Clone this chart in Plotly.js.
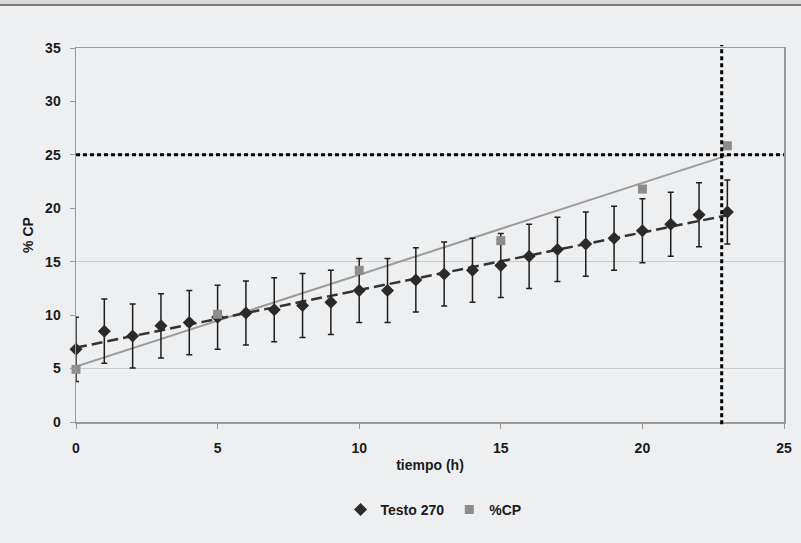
<!DOCTYPE html>
<html>
<head>
<meta charset="utf-8">
<script src="https://cdn.plot.ly/plotly-3.0.1.min.js"></script>
<style>
  html, body { margin: 0; padding: 0; background: #eeeff1; }
  #topband { position: absolute; left: 0; top: 0; width: 801px; height: 4px; background: #d9d9d9; border-bottom: 2px solid #7a7a7a; z-index: 10; }
  #chart { width: 801px; height: 543px; }
</style>
</head>
<body>
<div id="topband"></div>
<div id="chart"></div>
<script>
// ---- data ----
const testoHours = [0,1,2,3,4,5,6,7,8,9,10,11,12,13,14,15,16,17,18,19,20,21,22,23];
const testoValues = [6.8,8.5,8.05,9.0,9.3,9.8,10.2,10.5,10.9,11.2,12.3,12.3,13.3,13.85,14.2,14.65,15.5,16.15,16.65,17.2,17.9,18.5,19.4,19.65];
const testoErrors = [3,3,3,3,3,3,3,3,3,3,3,3,3,3,3,3,3,3,3,3,3,3,3,3];
const cpHours = [0,5,10,15,20,23];
const cpValues = [4.93,10.08,14.2,16.97,21.8,25.85];
const targetCP = 25;
const crossHour = 22.8;
const xTicks = [0,5,10,15,20,25];
const yTicks = [0,5,10,15,20,25,30,35];
const seriesNames = ['Testo 270', '%CP'];

// least-squares linear trend
function fit(xs, ys) {
  const n = xs.length;
  const mx = xs.reduce((a,b)=>a+b,0)/n;
  const my = ys.reduce((a,b)=>a+b,0)/n;
  let sxy = 0, sxx = 0;
  for (let i = 0; i < n; i++) { sxy += (xs[i]-mx)*(ys[i]-my); sxx += (xs[i]-mx)*(xs[i]-mx); }
  const m = sxy/sxx;
  return {m: m, b: my - m*mx};
}
const tFit = fit(testoHours, testoValues);
const cFit = fit(cpHours, cpValues);
const tX = [testoHours[0], testoHours[testoHours.length-1]];
const cX = [cpHours[0], cpHours[cpHours.length-1]];

const FONT = {family: 'Liberation Sans, Arial, sans-serif', size: 14, color: '#1a1a1a', weight: 'bold'};

const traces = [
  {x: cX, y: cX.map(v => cFit.b + cFit.m*v), mode: 'lines', showlegend: false, hoverinfo: 'skip',
   line: {color: '#9b9b9b', width: 2}},
  {x: tX, y: tX.map(v => tFit.b + tFit.m*v), mode: 'lines', showlegend: false, hoverinfo: 'skip',
   line: {color: '#333333', width: 2.5, dash: '11px,5px'}},
  {x: testoHours, y: testoValues, name: seriesNames[0], mode: 'markers', cliponaxis: false,
   marker: {symbol: 'diamond', size: 10, color: '#2a2a2a'},
   error_y: {type: 'data', array: testoErrors, visible: true, color: '#1e1e1e', thickness: 1.5, width: 3}},
  {x: cpHours, y: cpValues, name: seriesNames[1], mode: 'markers', cliponaxis: false,
   marker: {symbol: 'square', size: 9, color: '#8c8c8c'}},
  // invisible helper on overlay axis to carry grid lines at 5,15,25,35
  {x: [0], y: [0], yaxis: 'y2', mode: 'markers', showlegend: false, hoverinfo: 'skip',
   marker: {opacity: 0}}
];

const layout = {
  width: 801, height: 543,
  paper_bgcolor: '#eeeff1', plot_bgcolor: '#eeeff1',
  margin: {l: 76, r: 17, t: 48, b: 121},
  font: FONT,
  showlegend: true,
  legend: {orientation: 'h', x: 0.505, xanchor: 'center', y: -0.235, yanchor: 'middle',
           font: FONT, bgcolor: 'rgba(0,0,0,0)', itemwidth: 30, tracegroupgap: 0},
  xaxis: {range: [0, 25], tickvals: xTicks, ticktext: xTicks.map(String),
          showgrid: false, zeroline: false, showline: true, mirror: true,
          linecolor: '#9a9a9a', linewidth: 1.5, ticks: 'outside', ticklen: 5, tickcolor: '#9a9a9a',
          tickfont: FONT, ticklabelstandoff: 8,
          title: {text: 'tiempo (h)', font: FONT, standoff: 5}},
  yaxis: {range: [0, 35], tickvals: yTicks, ticktext: yTicks.map(String),
          showgrid: false, zeroline: false, showline: true, mirror: true,
          linecolor: '#9a9a9a', linewidth: 1.5, ticks: 'outside', ticklen: 5, tickcolor: '#9a9a9a',
          tickfont: FONT, ticklabelstandoff: 6,
          title: {text: '% CP', font: FONT, standoff: 8}},
  yaxis2: {overlaying: 'y', range: [0, 35], tick0: 5, dtick: 10, showgrid: true,
           gridcolor: '#c9c9c9', gridwidth: 1.2, showticklabels: false, ticks: '',
           zeroline: false, showline: false},
  shapes: [
    {type: 'line', xref: 'paper', yref: 'y', x0: 0, x1: 1, y0: targetCP, y1: targetCP,
     line: {color: '#000000', width: 3, dash: '4px,3px'}},
    {type: 'line', xref: 'x', yref: 'paper', x0: crossHour, x1: crossHour, y0: -0.006, y1: 1.008,
     line: {color: '#000000', width: 3, dash: '4px,3px'}}
  ]
};

Plotly.newPlot('chart', traces, layout, {displayModeBar: false, staticPlot: true});
</script>
</body>
</html>
